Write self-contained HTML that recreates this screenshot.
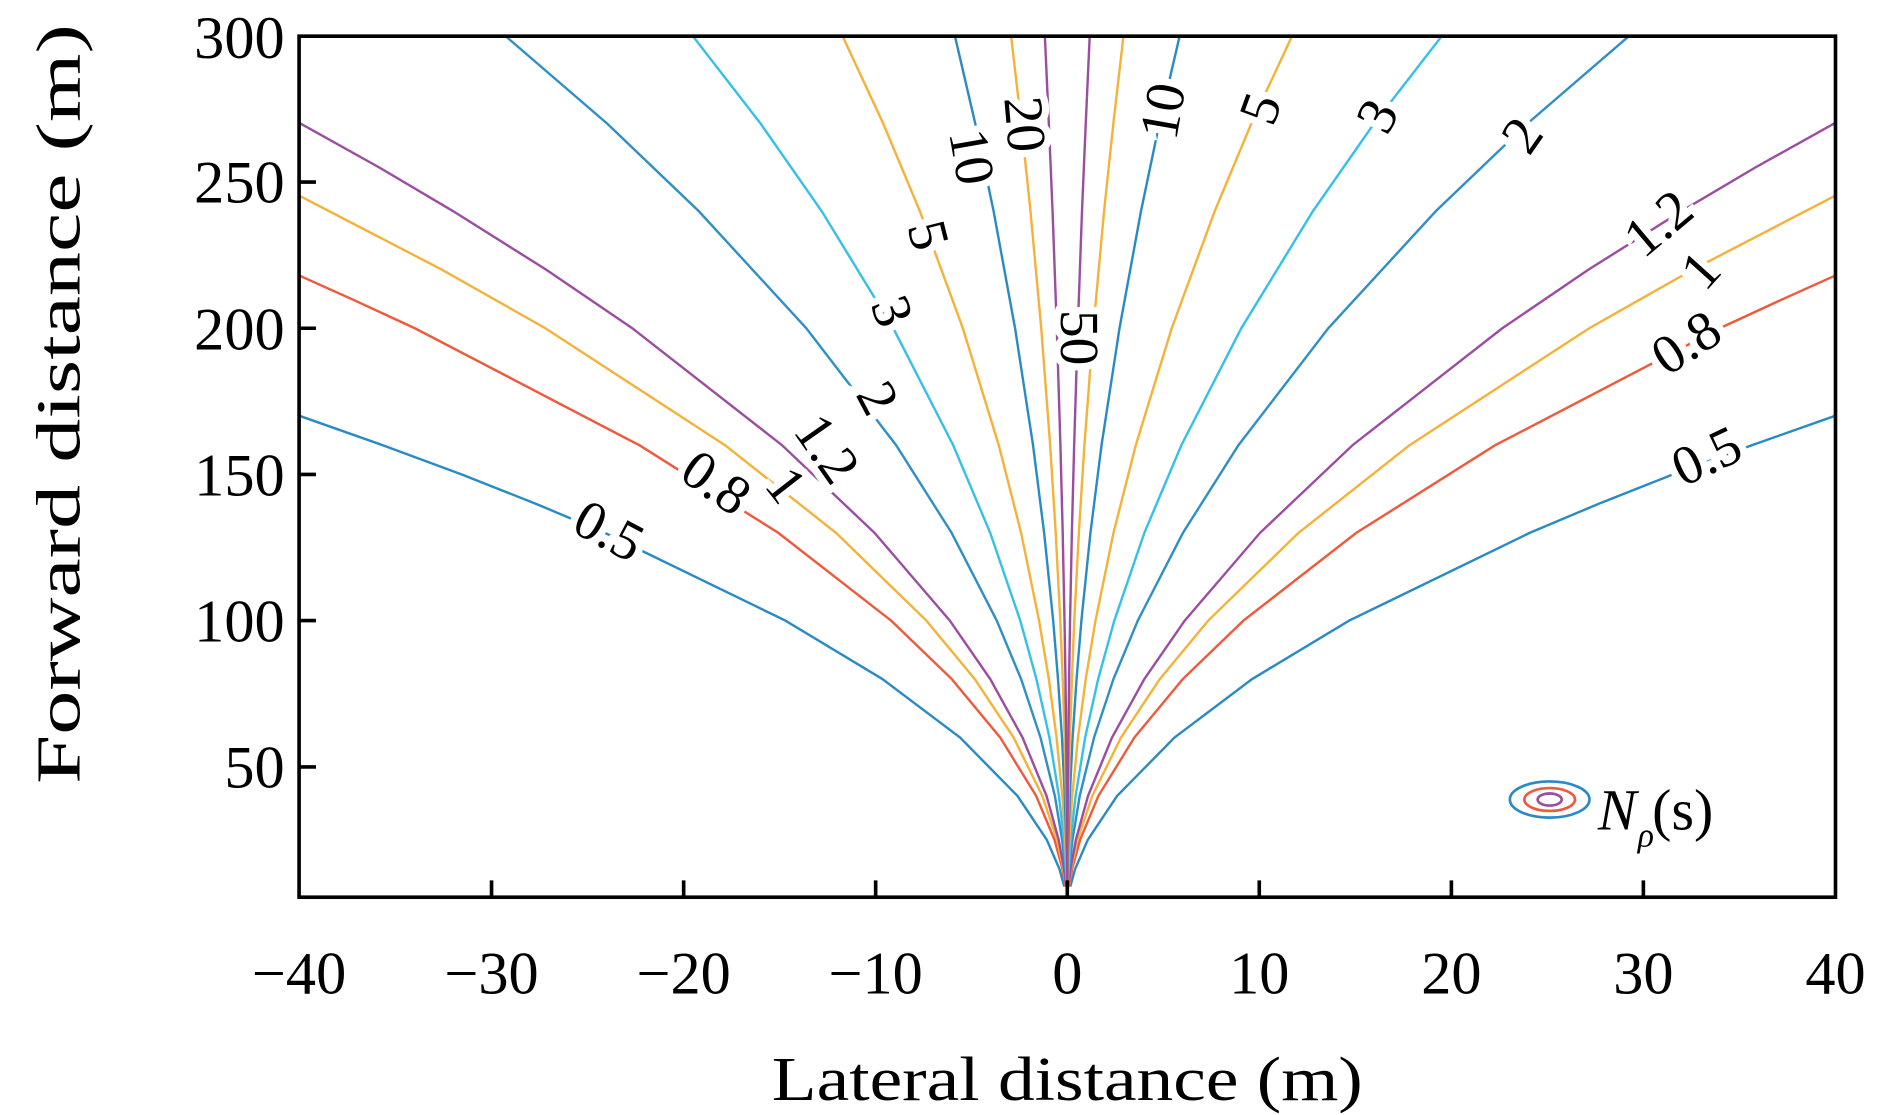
<!DOCTYPE html>
<html><head><meta charset="utf-8"><style>html,body{margin:0;padding:0;background:#fff}svg{display:block}</style></head>
<body>
<svg width="1890" height="1115" viewBox="0 0 1567.2 924.6" preserveAspectRatio="none" xmlns="http://www.w3.org/2000/svg" font-family="'Liberation Serif', serif">
<defs>
<g id="c" fill="none" stroke-width="2">
<path stroke="#2a8bc4" d="M2.5,735.2L6.5,720.6L17,696.4L41.3,660L88.9,611.6L153.3,563.1L233.8,514.6L383.4,441.9L441,417.6L502.3,393.4L567.6,369.2L637,344.7"/>
<path stroke="#ee5a3c" d="M1.5,735.2L4,720.6L10.6,696.4L25.8,660L55.6,611.6L95.8,563.1L146.1,514.6L239.6,441.9L354.8,369.2L541,272.2L593.4,248L637,228.4"/>
<path stroke="#f5b23a" d="M1.2,735.2L3.2,720.6L8.5,696.4L20.7,660L44.5,611.6L76.7,563.1L116.9,514.6L191.7,441.9L283.8,369.2L432.8,272.2L518.4,223.7L637,162.2"/>
<path stroke="#9b4ea0" d="M1,735.2L2.7,720.6L7.1,696.4L17.2,660L37.1,611.6L63.9,563.1L97.4,514.6L159.8,441.9L236.5,369.2L360.7,272.2L432,223.7L509.1,175.2L570.5,138.9L637,101.8"/>
<path stroke="#2f8fc6" d="M0.6,735.2L1.6,720.6L4.3,696.4L10.3,660L22.2,611.6L38.3,563.1L58.5,514.6L95.9,441.9L141.9,369.2L216.4,272.2L305.5,175.2L381.5,102.5L465.9,29.8"/>
<path stroke="#35c0e8" d="M0.4,735.2L1.1,720.6L2.8,696.4L6.9,660L14.8,611.6L25.6,563.1L39,514.6L63.9,441.9L94.6,369.2L144.3,272.2L203.6,175.2L254.3,102.5L310.6,29.8"/>
<path stroke="#f5b23a" d="M0.2,735.2L0.6,720.6L1.7,696.4L4.1,660L8.9,611.6L15.3,563.1L23.4,514.6L38.3,441.9L56.8,369.2L86.6,272.2L122.2,175.2L152.6,102.5L186.4,29.8"/>
<path stroke="#2a8bc4" d="M0.1,735.2L0.3,720.6L0.9,696.4L2.1,660L4.4,611.6L7.7,563.1L11.7,514.6L19.2,441.9L28.4,369.2L43.3,272.2L61.1,175.2L76.3,102.5L93.2,29.8"/>
<path stroke="#f5b23a" d="M0.1,735.2L0.2,720.6L0.4,696.4L1,660L2.2,611.6L3.8,563.1L5.8,514.6L9.6,441.9L14.2,369.2L21.6,272.2L30.5,175.2L38.2,102.5L46.6,29.8"/>
<path stroke="#9b4ea0" d="M0,735.2L0.1,720.6L0.2,696.4L0.4,660L0.9,611.6L1.5,563.1L2.3,514.6L3.8,441.9L5.7,369.2L8.7,272.2L12.2,175.2L15.3,102.5L18.6,29.8"/>
</g>
</defs>
<use href="#c" transform="translate(885,0)"/>
<use href="#c" transform="translate(885,0) scale(-1,1)"/>
<g font-size="46" fill="#000" stroke="#fff" stroke-width="12" paint-order="stroke" text-anchor="middle" dominant-baseline="central">
<text transform="translate(505,440) rotate(28)">0.5</text>
<text transform="translate(594,400) rotate(35)">0.8</text>
<text transform="translate(652,402) rotate(52)">1</text>
<text transform="translate(686,372) rotate(55)">1.2</text>
<text transform="translate(728,330) rotate(62)">2</text>
<text transform="translate(740,258) rotate(70)">3</text>
<text transform="translate(770,195) rotate(76)">5</text>
<text transform="translate(806,130) rotate(80)">10</text>
<text transform="translate(850,103) rotate(85)">20</text>
<text transform="translate(895,280) rotate(90)">50</text>
<text transform="translate(964,92) rotate(-80)">10</text>
<text transform="translate(1045,90) rotate(-70)">5</text>
<text transform="translate(1142,96) rotate(-62)">3</text>
<text transform="translate(1262,112) rotate(-55)">2</text>
<text transform="translate(1375,185) rotate(-40)">1.2</text>
<text transform="translate(1410,224) rotate(-48)">1</text>
<text transform="translate(1398,284) rotate(-33)">0.8</text>
<text transform="translate(1415,378) rotate(-25)">0.5</text>
</g>
<g stroke="#000" stroke-width="3" fill="none">
<rect x="248" y="30" width="1274" height="714"/>
<path d="M407.6,744v-14M566.9,744v-14M726.1,744v-14M885,744v-14M1044.2,744v-14M1203.5,744v-14M1362.7,744v-14M248,636h14M248,514.6h14M248,393.4h14M248,272.2h14M248,151h14"/>
</g>
<g font-size="50" fill="#000" text-anchor="middle">
<text x="248" y="824">−40</text><text x="407.6" y="824">−30</text><text x="566.9" y="824">−20</text><text x="726.1" y="824">−10</text><text x="885" y="824">0</text><text x="1044.2" y="824">10</text><text x="1203.5" y="824">20</text><text x="1362.7" y="824">30</text><text x="1522" y="824">40</text>
</g>
<g font-size="50" fill="#000" text-anchor="end">
<text x="236" y="653">50</text><text x="236" y="532">100</text><text x="236" y="411">150</text><text x="236" y="290">200</text><text x="236" y="168">250</text><text x="236" y="48">300</text>
</g>
<text x="640" y="912" font-size="52" textLength="490" lengthAdjust="spacingAndGlyphs">Lateral distance (m)</text>
<text transform="translate(66,650) rotate(-90)" font-size="52" textLength="630" lengthAdjust="spacingAndGlyphs">Forward distance (m)</text>
<g fill="none" stroke-width="2.2">
<ellipse cx="1285" cy="663" rx="33" ry="15" stroke="#2a8bc4"/>
<ellipse cx="1285" cy="663" rx="21" ry="9.5" stroke="#ee5a3c"/>
<ellipse cx="1285" cy="663" rx="10" ry="5" stroke="#9b4ea0"/>
</g>
<text x="1325" y="688" font-size="48" font-style="italic">N</text>
<text x="1358" y="702" font-size="28" font-style="italic">ρ</text>
<text x="1370" y="688" font-size="48">(s)</text>
</svg>
</body></html>
